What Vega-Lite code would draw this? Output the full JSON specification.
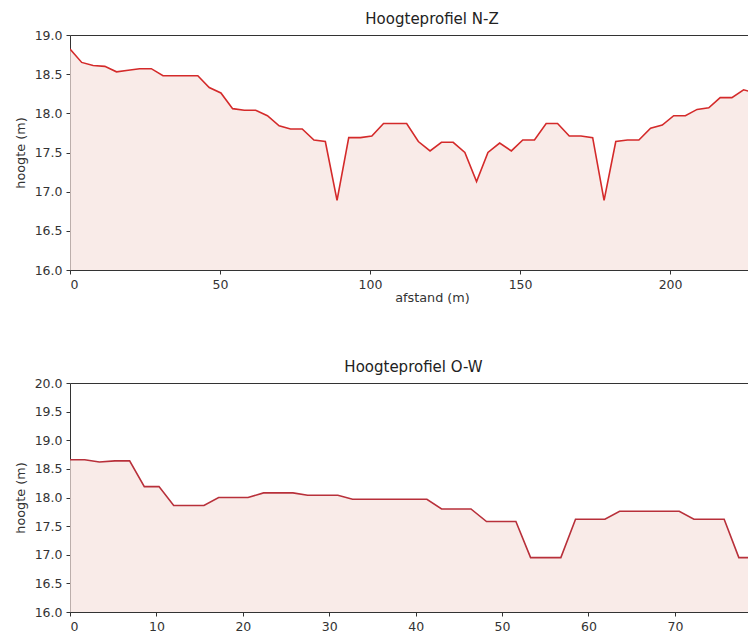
{
  "$schema": "https://vega.github.io/schema/vega-lite/v6.json",
  "padding": {"left": 13, "top": 11, "right": 0, "bottom": 0},
  "background": "white",
  "config": {
    "view": {"stroke": "#333", "strokeWidth": 1},
    "axis": {
      "grid": false, "domain": false, "tickColor": "#333", "tickSize": 4,
      "labelColor": "#333", "labelFont": "DejaVu Sans", "labelFontSize": 12.5,
      "titleFont": "DejaVu Sans", "titleFontSize": 12.8, "titleFontWeight": "normal",
      "titleColor": "#333", "labelPadding": 4
    },
    "title": {"font": "DejaVu Sans", "fontSize": 15, "fontWeight": "normal", "color": "#222", "offset": 2}
  },
  "spacing": 54,
  "datasets": {
    "nz": [
      {"afstand": 0, "hoogte": 18.82}, {"afstand": 3.9, "hoogte": 18.65}, {"afstand": 7.7, "hoogte": 18.61},
      {"afstand": 11.6, "hoogte": 18.6}, {"afstand": 15.5, "hoogte": 18.53}, {"afstand": 19.4, "hoogte": 18.55},
      {"afstand": 23.2, "hoogte": 18.57}, {"afstand": 27.1, "hoogte": 18.57}, {"afstand": 31.0, "hoogte": 18.48},
      {"afstand": 34.8, "hoogte": 18.48}, {"afstand": 38.7, "hoogte": 18.48}, {"afstand": 42.6, "hoogte": 18.48},
      {"afstand": 46.4, "hoogte": 18.33}, {"afstand": 50.3, "hoogte": 18.26}, {"afstand": 54.2, "hoogte": 18.06},
      {"afstand": 58.1, "hoogte": 18.04}, {"afstand": 61.9, "hoogte": 18.04}, {"afstand": 65.8, "hoogte": 17.97},
      {"afstand": 69.7, "hoogte": 17.84}, {"afstand": 73.5, "hoogte": 17.8}, {"afstand": 77.4, "hoogte": 17.8},
      {"afstand": 81.3, "hoogte": 17.66}, {"afstand": 85.1, "hoogte": 17.64}, {"afstand": 89.0, "hoogte": 16.89},
      {"afstand": 92.9, "hoogte": 17.69}, {"afstand": 96.8, "hoogte": 17.69}, {"afstand": 100.6, "hoogte": 17.71},
      {"afstand": 104.5, "hoogte": 17.87}, {"afstand": 108.4, "hoogte": 17.87}, {"afstand": 112.2, "hoogte": 17.87},
      {"afstand": 116.1, "hoogte": 17.64}, {"afstand": 120.0, "hoogte": 17.52}, {"afstand": 123.8, "hoogte": 17.63},
      {"afstand": 127.7, "hoogte": 17.63}, {"afstand": 131.6, "hoogte": 17.5}, {"afstand": 135.5, "hoogte": 17.13},
      {"afstand": 139.3, "hoogte": 17.5}, {"afstand": 143.2, "hoogte": 17.62}, {"afstand": 147.1, "hoogte": 17.52},
      {"afstand": 150.9, "hoogte": 17.66}, {"afstand": 154.8, "hoogte": 17.66}, {"afstand": 158.7, "hoogte": 17.87},
      {"afstand": 162.5, "hoogte": 17.87}, {"afstand": 166.4, "hoogte": 17.71}, {"afstand": 170.3, "hoogte": 17.71},
      {"afstand": 174.2, "hoogte": 17.69}, {"afstand": 178.0, "hoogte": 16.89}, {"afstand": 181.9, "hoogte": 17.64},
      {"afstand": 185.8, "hoogte": 17.66}, {"afstand": 189.6, "hoogte": 17.66}, {"afstand": 193.5, "hoogte": 17.81},
      {"afstand": 197.4, "hoogte": 17.85}, {"afstand": 201.2, "hoogte": 17.97}, {"afstand": 205.1, "hoogte": 17.97},
      {"afstand": 209.0, "hoogte": 18.05}, {"afstand": 212.9, "hoogte": 18.07}, {"afstand": 216.7, "hoogte": 18.2},
      {"afstand": 220.6, "hoogte": 18.2}, {"afstand": 224.5, "hoogte": 18.3}, {"afstand": 228.3, "hoogte": 18.26},
      {"afstand": 232.2, "hoogte": 18.3}, {"afstand": 236.1, "hoogte": 18.34}
    ],
    "ow": [
      {"afstand": 0, "hoogte": 18.66}, {"afstand": 1.7, "hoogte": 18.66}, {"afstand": 3.4, "hoogte": 18.62},
      {"afstand": 5.2, "hoogte": 18.64}, {"afstand": 6.9, "hoogte": 18.64}, {"afstand": 8.6, "hoogte": 18.19},
      {"afstand": 10.3, "hoogte": 18.19}, {"afstand": 12.0, "hoogte": 17.86}, {"afstand": 13.8, "hoogte": 17.86},
      {"afstand": 15.5, "hoogte": 17.86}, {"afstand": 17.2, "hoogte": 18.0}, {"afstand": 18.9, "hoogte": 18.0},
      {"afstand": 20.6, "hoogte": 18.0}, {"afstand": 22.4, "hoogte": 18.08}, {"afstand": 24.1, "hoogte": 18.08},
      {"afstand": 25.8, "hoogte": 18.08}, {"afstand": 27.5, "hoogte": 18.04}, {"afstand": 29.2, "hoogte": 18.04},
      {"afstand": 31.0, "hoogte": 18.04}, {"afstand": 32.7, "hoogte": 17.97}, {"afstand": 34.4, "hoogte": 17.97},
      {"afstand": 36.1, "hoogte": 17.97}, {"afstand": 37.8, "hoogte": 17.97}, {"afstand": 39.6, "hoogte": 17.97},
      {"afstand": 41.3, "hoogte": 17.97}, {"afstand": 43.0, "hoogte": 17.8}, {"afstand": 44.7, "hoogte": 17.8},
      {"afstand": 46.4, "hoogte": 17.8}, {"afstand": 48.2, "hoogte": 17.58}, {"afstand": 49.9, "hoogte": 17.58},
      {"afstand": 51.6, "hoogte": 17.58}, {"afstand": 53.3, "hoogte": 16.95}, {"afstand": 55.0, "hoogte": 16.95},
      {"afstand": 56.8, "hoogte": 16.95}, {"afstand": 58.5, "hoogte": 17.62}, {"afstand": 60.2, "hoogte": 17.62},
      {"afstand": 61.9, "hoogte": 17.62}, {"afstand": 63.6, "hoogte": 17.76}, {"afstand": 65.4, "hoogte": 17.76},
      {"afstand": 67.1, "hoogte": 17.76}, {"afstand": 68.8, "hoogte": 17.76}, {"afstand": 70.5, "hoogte": 17.76},
      {"afstand": 72.2, "hoogte": 17.62}, {"afstand": 74.0, "hoogte": 17.62}, {"afstand": 75.7, "hoogte": 17.62},
      {"afstand": 77.4, "hoogte": 16.95}, {"afstand": 79.1, "hoogte": 16.95}
    ]
  },
  "vconcat": [
    {
      "title": "Hoogteprofiel N-Z",
      "width": 724,
      "height": 235,
      "data": {"name": "nz"},
      "mark": {"type": "area", "color": "#f6e3de", "clip": true, "line": {"color": "#d42a2a", "strokeWidth": 1.6}},
      "encoding": {
        "x": {"field": "afstand", "type": "quantitative", "scale": {"domain": [0, 241.3], "nice": false},
              "axis": {"title": "afstand (m)", "values": [0, 50, 100, 150, 200], "titlePadding": 1}},
        "y": {"field": "hoogte", "type": "quantitative", "scale": {"domain": [16, 19], "nice": false, "zero": false},
              "axis": {"title": "hoogte (m)", "values": [16, 16.5, 17, 17.5, 18, 18.5, 19],
                       "format": ".1f", "titlePadding": 7}},
        "y2": {"datum": 16}
      }
    },
    {
      "title": "Hoogteprofiel O-W",
      "width": 687,
      "height": 229,
      "data": {"name": "ow"},
      "mark": {"type": "area", "color": "#f6e3de", "clip": true, "line": {"color": "#b8303a", "strokeWidth": 1.6}},
      "encoding": {
        "x": {"field": "afstand", "type": "quantitative", "scale": {"domain": [0, 79.5], "nice": false},
              "axis": {"title": null, "values": [0, 10, 20, 30, 40, 50, 60, 70]}},
        "y": {"field": "hoogte", "type": "quantitative", "scale": {"domain": [16, 20], "nice": false, "zero": false},
              "axis": {"title": "hoogte (m)", "values": [16, 16.5, 17, 17.5, 18, 18.5, 19, 19.5, 20],
                       "format": ".1f", "titlePadding": 7}},
        "y2": {"datum": 16}
      }
    }
  ]
}
